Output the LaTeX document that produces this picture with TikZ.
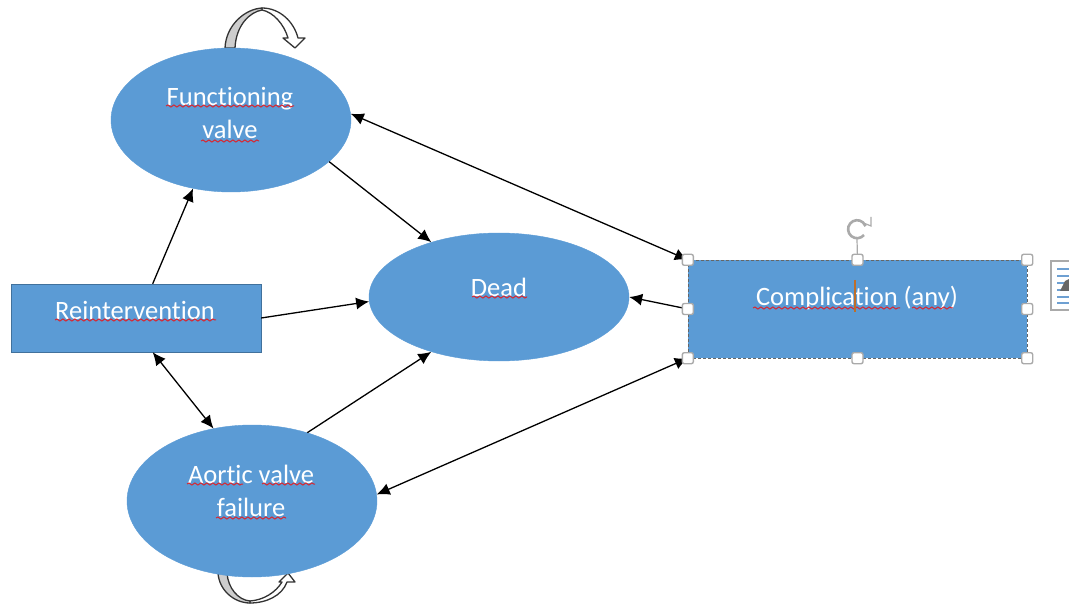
\documentclass[tikz,border=0pt]{standalone}
\usepackage{fontspec}
\setmainfont[Ligatures=CommonOff]{Carlito}
\usetikzlibrary{shapes.geometric,arrows.meta,decorations.pathmorphing}
\definecolor{stateblue}{RGB}{91,155,213}
\definecolor{statedge}{RGB}{65,113,156}
\definecolor{loopgrey}{RGB}{205,205,205}
\definecolor{handlegrey}{RGB}{170,170,170}
\definecolor{squigglered}{RGB}{215,40,50}
\definecolor{caretorange}{RGB}{190,110,40}
\definecolor{iconblue}{RGB}{110,160,210}
\tikzset{
	stateoval/.style={ellipse,fill=stateblue,draw=stateblue,inner sep=0pt},
	statebox/.style={rectangle,fill=stateblue,inner sep=0pt},
	statetext/.style={text=white,font=\fontsize{26.5}{33}\selectfont,inner sep=0pt},
	link/.style={-{Latex[length=13pt,width=12pt]},black,line width=1.3pt},
	bothlink/.style={{Latex[length=13pt,width=12pt]}-{Latex[length=13pt,width=12pt]},black,line width=1.3pt},
	squiggle/.style={squigglered,line width=1pt,decorate,decoration={snake,amplitude=1pt,segment length=6pt}},
	handle/.style={rectangle,rounded corners=2pt,fill=white,draw=handlegrey,line width=1.4pt,minimum size=11pt,inner sep=0pt},
	loopline/.style={black!80,line width=1.3pt,line join=round}
}
\begin{document}
\begin{tikzpicture}[x=1pt,y=-1pt]
	\useasboundingbox (0,0) rectangle (1069,604);
	% loops
	\draw[loopline,fill=white] (262,8) .. controls (280,8) and (294,22) .. (298,38) -- (305,38) -- (295,48) -- (283,38) -- (288,38) .. controls (284,24) and (273,12) .. (262,10) -- cycle;
	\draw[loopline,fill=loopgrey] (225,48) .. controls (226,25) and (245,9) .. (262,8) -- (262,10) .. controls (250,12) and (236,25) .. (235,48) -- cycle;
	\draw[loopline,fill=white] (250,603) .. controls (266,603) and (282,596) .. (287,582) -- (295,582) -- (288,573) -- (279,582) -- (282,582) .. controls (276,592) and (264,600) .. (250,601) -- cycle;
	\draw[loopline,fill=loopgrey] (218,573) .. controls (219,590) and (234,603) .. (250,603) -- (250,601) .. controls (238,600) and (228,588) .. (227,573) -- cycle;
	% states
	\node[stateoval,minimum width=240pt,minimum height=144pt] (valve) at (231,120) {};
	\node[stateoval,minimum width=260pt,minimum height=128pt] (dead) at (499,297) {};
	\node[stateoval,minimum width=250pt,minimum height=152pt] (failure) at (252,501) {};
	\node[statebox,draw=statedge,minimum width=250pt,minimum height=68pt] (reint) at (136,318) {};
	\node[statebox,draw=black!60,densely dashed,minimum width=339pt,minimum height=98pt] (compl) at (857.5,309) {};
	\node[statetext,align=center] (valvetext) at (230,113) {Functioning\\valve};
	\node[statetext] (deadtext) at (499,287) {Dead};
	\node[statetext,align=center] (failuretext) at (251,491) {Aortic valve\\failure};
	\node[statetext] (reinttext) at (135,310) {Reintervention};
	\node[statetext] (compltext) at (857,298) {Complication (any)};
	% spelling marks
	\draw[squiggle] (166,106) -- (294,106);
	\draw[squiggle] (201,141) -- (259,141);
	\draw[squiggle] (472,297) -- (527,297);
	\draw[squiggle] (55,320) -- (216,320);
	\draw[squiggle] (187,484) -- (243,484);
	\draw[squiggle] (262,484) -- (315,484);
	\draw[squiggle] (216,518) -- (286,518);
	\draw[squiggle] (753,308) -- (900,308);
	\draw[squiggle] (912,308) -- (953,308);
	% connectors
	\draw[link] (reint.64.8) -- (valve.-119.7);
	\draw[link] (valve.-23.3) -- (dead.141.3);
	\draw[bothlink] (valve.3.3) -- (compl.north west);
	\draw[link] (reint.-0.9) -- (dead.182.6);
	\draw[bothlink] (reint.-64.8) -- (failure.118.3);
	\draw[link] (failure.51.7) -- (dead.-141.3);
	\draw[bothlink] (failure.3.7) -- (compl.south west);
	\draw[link] (compl.west) -- (dead.0.9);
	% selection handles
	\coordinate (rotbase) at (857,239);
	\draw[handlegrey,line width=1.2pt] (compl.north) -- (rotbase);
	\draw[handlegrey,line width=2.6pt] (864,235) arc (40:340:9);
	\draw[handlegrey,line width=1.2pt] (861,222) -- (871,226) -- (871,217);
	\foreach \anchor in {north west,north,north east,west,east,south west,south,south east}
		\node[handle] at (compl.\anchor) {};
	\draw[caretorange,line width=1.2pt] (855,280) -- (855,312);
	% layout icon
	\draw[handlegrey,line width=1.2pt,fill=white] (1069,261) -- (1051,261) -- (1051,310) -- (1069,310);
	\foreach \y in {269,276,283,290,297,303}
		\draw[iconblue,line width=1.2pt] (1057,\y) -- (1069,\y);
	\fill[black!60] (1060,291) -- (1065,281) -- (1069,279) -- (1069,291) -- cycle;
\end{tikzpicture}
\end{document}
